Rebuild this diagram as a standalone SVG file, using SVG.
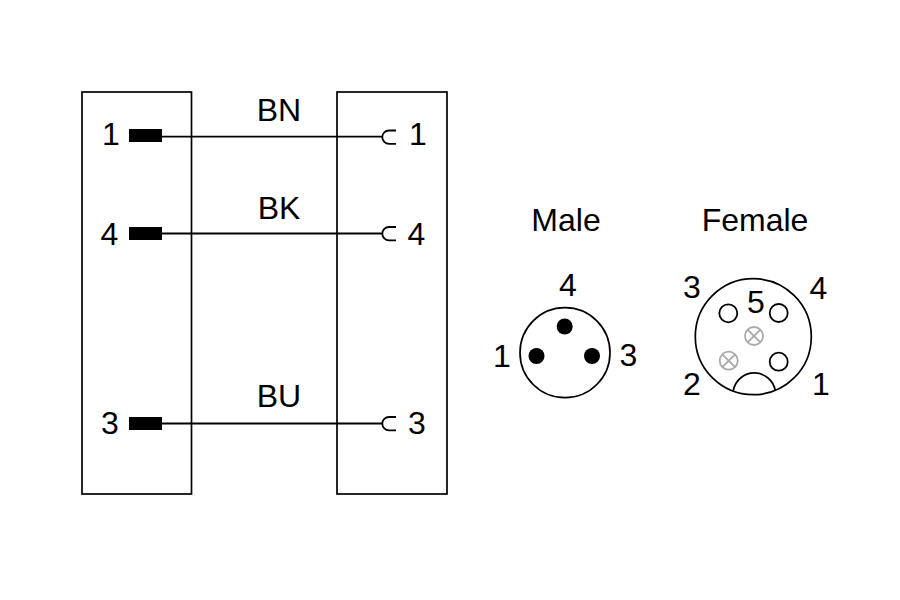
<svg xmlns="http://www.w3.org/2000/svg" width="900" height="600" viewBox="0 0 900 600">
<style>
text{font-family:"Liberation Sans",Arial,sans-serif;font-size:32px;fill:#000;text-anchor:middle}
.o{fill:none;stroke:#000;stroke-width:1.7}
.w{fill:none;stroke:#000;stroke-width:1.8}
.p{fill:#000;stroke:none}
.f{fill:#fff;stroke:#000;stroke-width:1.8}
.g{fill:none;stroke:#aaa;stroke-width:1.8}
</style>
<rect width="900" height="600" fill="#fff"/>
<defs>
<g id="x"><circle class="g" r="9"/><path class="g" d="M-6.4-6.4 6.4 6.4M-6.4 6.4 6.4-6.4"/></g>
</defs>
<g id="connector-left"><rect class="o" x="82" y="92" width="109.500" height="402"/></g>
<g id="connector-right"><rect class="o" x="337" y="92" width="110" height="402"/></g>
<g id="connectors">
<path class="w" d="M162 136.700H382M396 130.500H389a6.700 6.700 0 0 0 0 13.400H396"/>
<path class="w" d="M162 233.500H382M396 227H389a6.700 6.700 0 0 0 0 13.400H396"/>
<path class="w" d="M162 423.500H382M396 417H389a6.700 6.700 0 0 0 0 13.400H396"/>
</g>
<g id="pin-1"><rect class="p" x="129" y="129" width="33" height="13"/><text x="111" y="144.500">1</text><text x="418" y="144.500">1</text></g>
<g id="pin-4"><rect class="p" x="129" y="227" width="33" height="13"/><text x="109.500" y="245">4</text><text x="416.500" y="245">4</text></g>
<g id="pin-3"><rect class="p" x="129" y="417" width="33" height="13"/><text x="110" y="434">3</text><text x="417" y="434">3</text></g>
<g id="wire-labels"><text x="279" y="121">BN</text><text x="279" y="219">BK</text><text x="279" y="407">BU</text></g>
<g id="male">
<text x="566" y="231">Male</text>
<circle class="o" cx="565" cy="352.700" r="45"/>
<circle class="p" cx="564.700" cy="326.500" r="8"/>
<circle class="p" cx="536.500" cy="356" r="8"/>
<circle class="p" cx="592" cy="356" r="8"/>
<text x="568" y="296">4</text><text x="502" y="367">1</text><text x="628.500" y="366">3</text>
</g>
<g id="female">
<text x="755" y="231">Female</text>
<circle class="o" cx="753.300" cy="336.700" r="58"/>
<path class="o" d="M733.300 390.700A21.300 21.300 0 0 1 775.300 390.700"/>
<circle class="f" cx="728.300" cy="313.300" r="9"/>
<circle class="f" cx="778.700" cy="313" r="9"/>
<circle class="f" cx="778.700" cy="361.700" r="9"/>
<use href="#x" x="754" y="336"/>
<use href="#x" x="728.700" y="360.700"/>
<text x="756" y="312.500">5</text><text x="692" y="298">3</text><text x="818.500" y="299">4</text><text x="692" y="395">2</text><text x="821" y="395">1</text>
</g>
</svg>
